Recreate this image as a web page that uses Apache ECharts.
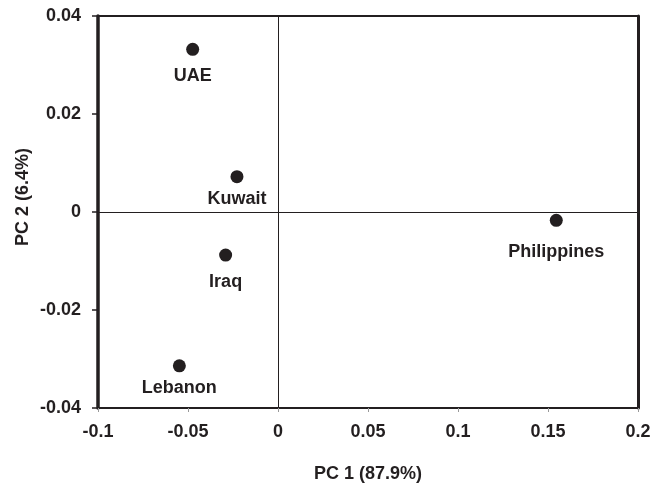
<!DOCTYPE html>
<html>
<head>
<meta charset="utf-8">
<script src="https://cdn.jsdelivr.net/npm/echarts@6/dist/echarts.min.js"></script>
<style>
  html, body { margin: 0; padding: 0; background: #fff; }
  #chart { width: 653px; height: 483px; }
</style>
</head>
<body>
<div id="chart"></div>
<script>
// PCA scores per country
var countries = ['UAE', 'Kuwait', 'Iraq', 'Lebanon', 'Philippines'];
var pc1 = [-0.0474, -0.0228, -0.0291, -0.0548, 0.1546];
var pc2 = [0.0332, 0.0072, -0.0088, -0.0314, -0.0017];

// axis ticks
var xTicks = [-0.1, -0.05, 0, 0.05, 0.1, 0.15, 0.2];
var yTicks = [-0.04, -0.02, 0, 0.02, 0.04];

// label gap under each dot (px)
var labelDist = [11, 7, 11, 7, 16];

var ink = '#231f20';
var font = 'Liberation Sans, Arial, sans-serif';

var myChart = echarts.init(document.getElementById('chart'));

var points = countries.map(function (name, i) {
    return {
        name: name,
        value: [pc1[i], pc2[i]],
        label: { distance: labelDist[i] }
    };
});

var option = {
    animation: false,
    grid: {
        left: 98,
        top: 16,
        right: 15,
        bottom: 75,
        containLabel: false,
        outerBoundsMode: 'none',
        show: true,
        borderColor: ink,
        borderWidth: 2
    },
    xAxis: {
        type: 'value',
        min: xTicks[0],
        max: xTicks[xTicks.length - 1],
        interval: 0.05,
        name: 'PC 1 (87.9%)',
        nameLocation: 'middle',
        nameGap: 57,
        nameTextStyle: { fontFamily: font, fontWeight: 'bold', fontSize: 18, color: ink },
        axisLine: { onZero: false, lineStyle: { color: ink, width: 2 } },
        axisTick: { show: true, inside: false, length: 4, lineStyle: { color: '#999' } },
        axisLabel: {
            margin: 15,
            fontFamily: font, fontWeight: 'bold', fontSize: 18, color: ink,
            formatter: function (v) { return String(+v.toFixed(2)); }
        },
        splitLine: { show: false }
    },
    yAxis: [{
        type: 'value',
        min: yTicks[0],
        max: yTicks[yTicks.length - 1],
        interval: 0.02,
        name: 'PC 2 (6.4%)',
        nameLocation: 'middle',
        nameGap: 66,
        nameMoveOverlap: false,
        nameTextStyle: {
            fontFamily: font, fontWeight: 'bold', fontSize: 18, color: ink,
            padding: [0, 0, 0, 30]
        },
        axisLine: { onZero: false, lineStyle: { color: ink, width: 3.5 } },
        axisTick: { show: true, inside: false, length: 6, lineStyle: { color: ink, width: 1.5 } },
        axisLabel: {
            margin: 17,
            fontFamily: font, fontWeight: 'bold', fontSize: 18, color: ink,
            formatter: function (v) { return String(+v.toFixed(2)); }
        },
        splitLine: { show: false }
    }, {
        type: 'value',
        position: 'right',
        min: yTicks[0],
        max: yTicks[yTicks.length - 1],
        interval: 0.02,
        axisLine: { show: true, onZero: false, lineStyle: { color: ink, width: 3 } },
        axisTick: { show: false },
        axisLabel: { show: false },
        splitLine: { show: false }
    }],
    series: [{
        type: 'scatter',
        symbol: 'circle',
        symbolSize: 13,
        itemStyle: { color: ink, opacity: 1 },
        label: {
            show: true,
            position: 'bottom',
            formatter: '{b}',
            fontFamily: font,
            fontWeight: 'bold',
            fontSize: 18,
            color: ink
        },
        markLine: {
            silent: true,
            symbol: 'none',
            label: { show: false },
            lineStyle: { color: ink, width: 1, type: 'solid' },
            data: [{ xAxis: 0 }, { yAxis: 0 }]
        },
        data: points
    }]
};

myChart.setOption(option);
</script>
</body>
</html>
